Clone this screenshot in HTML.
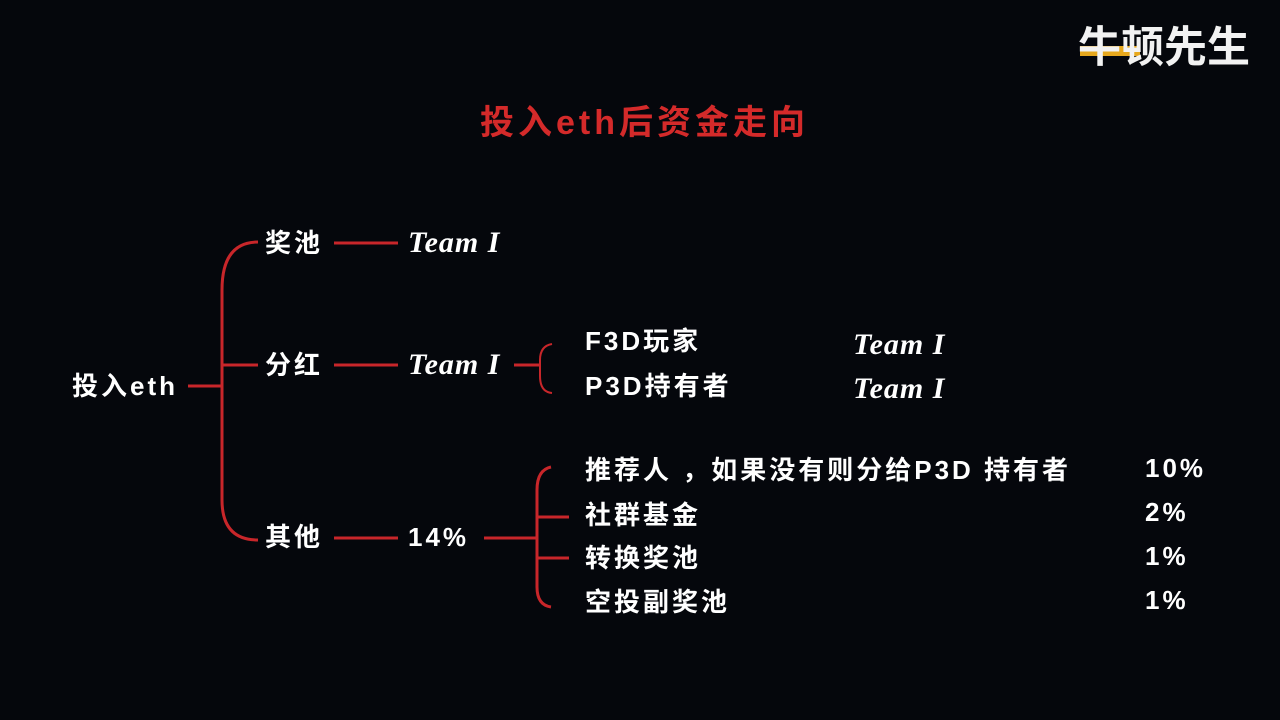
<!DOCTYPE html>
<html><head><meta charset="utf-8"><style>
html,body{margin:0;padding:0;background:#05070c;}
#c{position:relative;width:1280px;height:720px;overflow:hidden;background:#05070c;font-family:"Liberation Sans","Noto Sans CJK SC",sans-serif;font-weight:bold;color:#fff;}
.t{position:absolute;font-size:26px;line-height:30px;white-space:nowrap;letter-spacing:3px;}
.tm{position:absolute;font-family:"Liberation Serif",serif;font-style:italic;font-weight:bold;font-size:30px;line-height:30px;white-space:nowrap;letter-spacing:1px;}
svg{position:absolute;left:0;top:0;}
</style></head><body><div id="c">
<svg width="1280" height="720">
<g stroke="#c8262a" stroke-width="3" fill="none">
<path d="M258 242 Q222 242 222 290 L222 500 Q222 540 258 540"/>
<line x1="188" y1="386" x2="222" y2="386"/>
<line x1="222" y1="365" x2="258" y2="365"/>
<line x1="334" y1="243" x2="398" y2="243"/>
<line x1="334" y1="365" x2="398" y2="365"/>
<line x1="334" y1="538" x2="398" y2="538"/>
<line x1="514" y1="365" x2="540" y2="365"/>
<path d="M552 344 Q540 346 540 360 L540 376 Q540 392 552 393" stroke-width="2"/>
<line x1="484" y1="538" x2="536" y2="538"/>
<path d="M551 467 Q537 470 537 490 L537 587 Q537 605 551 607"/>
<line x1="537" y1="517" x2="569" y2="517"/>
<line x1="537" y1="558" x2="569" y2="558"/>
</g>
<rect x="1080" y="46" width="60" height="10" fill="#e7a81d"/>
</svg>
<div class="t" style="left:1078px;top:22px;font-size:43px;line-height:52px;letter-spacing:0;color:#f2f2f2;">牛顿先生</div>
<div class="t" style="left:480px;top:103px;font-size:34px;line-height:40px;color:#d42a2a;letter-spacing:4px;">投入eth后资金走向</div>
<div class="t" style="left:72px;top:371px;">投入eth</div>
<div class="t" style="left:265px;top:228px;">奖池</div>
<div class="t" style="left:265px;top:350px;">分红</div>
<div class="t" style="left:265px;top:522px;">其他</div>
<div class="tm" style="left:408px;top:228px;">Team I</div>
<div class="tm" style="left:408px;top:350px;">Team I</div>
<div class="t" style="left:408px;top:522px;">14%</div>
<div class="t" style="left:585px;top:326px;">F3D玩家</div>
<div class="t" style="left:585px;top:371px;">P3D持有者</div>
<div class="tm" style="left:853px;top:330px;">Team I</div>
<div class="tm" style="left:853px;top:374px;">Team I</div>
<div class="t" style="left:585px;top:455px;">推荐人 ，如果没有则分给P3D 持有者</div>
<div class="t" style="left:585px;top:500px;">社群基金</div>
<div class="t" style="left:585px;top:543px;">转换奖池</div>
<div class="t" style="left:585px;top:587px;">空投副奖池</div>
<div class="t" style="left:1145px;top:453px;">10%</div>
<div class="t" style="left:1145px;top:497px;">2%</div>
<div class="t" style="left:1145px;top:541px;">1%</div>
<div class="t" style="left:1145px;top:585px;">1%</div>
</div></body></html>
